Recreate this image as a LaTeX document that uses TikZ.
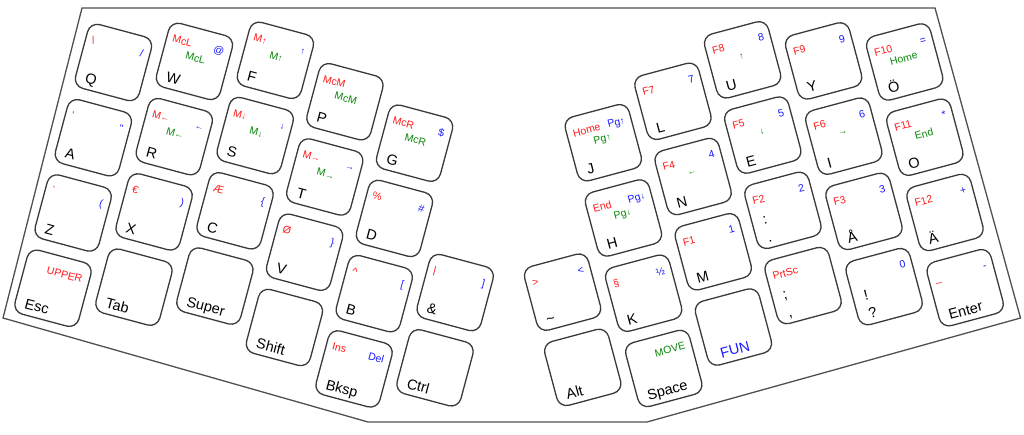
\documentclass[tikz,border=0pt]{standalone}
\usepackage{fontspec}
\setmainfont{Liberation Sans}
\definecolor{kred}{HTML}{FF1A1A}
\definecolor{kblue}{HTML}{1A1AFF}
\definecolor{kgreen}{HTML}{0A870A}
\definecolor{keyline}{HTML}{3A3A3A}
\definecolor{caseline}{HTML}{505050}
\newcommand\myarr[1]{{\fontsize{9}{9}\selectfont #1}}
\tikzset{
  keybox/.style={draw=keyline, line width=1.3pt, rounded corners=10pt,
    minimum width=66pt, minimum height=66pt, inner sep=0pt},
  mainlbl/.style={anchor=base west, inner sep=0pt, text=black,
    font=\fontsize{14.5}{17}\selectfont},
  redlbl/.style={anchor=base west, inner sep=0pt, text=kred,
    font=\fontsize{10.5}{12}\selectfont},
  bluelbl/.style={anchor=base east, inner sep=0pt, text=kblue,
    font=\fontsize{10.5}{12}\selectfont},
  greenlbl/.style={anchor=center, inner sep=0pt, text=kgreen,
    font=\fontsize{10.5}{12}\selectfont},
  caseoutline/.style={draw=caseline, line width=1.3pt, line join=miter},
}
% name, u, v, main, red, green, blue
\newcommand\KEY[7]{%
  \node[keybox] (#1) at ({#2},{-1*(#3)}) {};
  \if\relax\detokenize{#4}\relax\else\node[mainlbl] (#1-m) at ({#2-23},{-1*(#3)-27}) {#4};\fi
  \if\relax\detokenize{#5}\relax\else\node[redlbl] (#1-r) at ({#2-27},{-1*(#3)+13}) {#5};\fi
  \if\relax\detokenize{#6}\relax\else\node[greenlbl] (#1-g) at ({#2},{-1*(#3)+3.5}) {#6};\fi
  \if\relax\detokenize{#7}\relax\else\node[bluelbl] (#1-b) at ({#2+26.5},{-1*(#3)+13}) {#7};\fi
}
\begin{document}
\begin{tikzpicture}[x=1pt,y=1pt]
\useasboundingbox (0,0) rectangle (1024,-434);
\fill[white] (0,0) rectangle (1024,-434);
% case outline
\coordinate (c1) at (82,-8);
\coordinate (c2) at (935,-8);
\coordinate (c3) at (1020.5,-318);
\coordinate (c4) at (647,-422);
\coordinate (c5) at (368,-422);
\coordinate (c6) at (3,-318);
\draw[caseoutline] (c1) -- (c2) -- (c3) -- (c4) -- (c5) -- (c6) -- cycle;

% ---------------- left half ----------------
\begin{scope}[rotate=-15, transform shape]
\KEY{q}{125.8}{31.0}{Q}{\textbackslash}{}{/}
\KEY{a}{125.8}{108.9}{A}{\textquotesingle}{}{\textquotedbl}
\KEY{z}{125.8}{186.8}{Z}{\textasciigrave}{}{(}
\KEY{esc}{125.8}{264.7}{Esc}{}{}{}
\node[bluelbl, text=kred] (esc-u) at (151.8,-252.2) {UPPER};
\KEY{w}{203.7}{9.0}{W}{McL}{McL}{@}
\KEY{r}{203.7}{86.9}{R}{M\myarr{←}}{M\myarr{←}}{\myarr{←}}
\KEY{x}{203.7}{164.8}{X}{€}{}{)}
\KEY{tab}{203.7}{242.7}{Tab}{}{}{}
\KEY{f}{281.6}{-13.0}{F}{M\myarr{↑}}{M\myarr{↑}}{\myarr{↑}}
\KEY{s}{281.6}{64.9}{S}{M\myarr{↓}}{M\myarr{↓}}{\myarr{↓}}
\KEY{c}{281.6}{142.8}{C}{Æ}{}{\{}
\KEY{super}{281.6}{220.7}{Super}{}{}{}
\KEY{p}{359.5}{9.0}{P}{McM}{McM}{}
\KEY{t}{359.5}{86.9}{T}{M\myarr{→}}{M\myarr{→}}{\myarr{→}}
\KEY{v}{359.5}{164.8}{V}{Ø}{}{\}}
\KEY{shift}{359.5}{242.7}{Shift}{}{}{}
\KEY{g}{437.5}{31.0}{G}{McR}{McR}{\$}
\KEY{d}{437.5}{108.9}{D}{\%}{}{\#}
\KEY{b}{437.5}{186.8}{B}{\textasciicircum}{}{[}
\KEY{bksp}{437.5}{264.7}{Bksp}{Ins}{}{Del}
\KEY{amp}{515.4}{164.8}{\&}{|}{}{]}
\KEY{ctrl}{515.4}{242.7}{Ctrl}{}{}{}
\end{scope}

% ---------------- right half ----------------
\begin{scope}[rotate=15, transform shape]
\KEY{tilde}{467.8}{427.8}{\textasciitilde}{>}{}{<}
\KEY{alt}{467.8}{505.7}{Alt}{}{}{}
\KEY{j}{545.8}{294.0}{J}{Home}{Pg\myarr{↑}}{Pg\myarr{↑}}
\KEY{h}{545.8}{371.9}{H}{End}{Pg\myarr{↓}}{Pg\myarr{↓}}
\KEY{k}{545.8}{449.8}{K}{§}{}{½}
\KEY{space}{545.8}{527.7}{Space}{}{}{}
\node[bluelbl, text=kgreen] (space-mv) at (572.3,-514.7) {MOVE};
\KEY{l}{623.8}{272.0}{L}{F7}{}{7}
\KEY{n}{623.8}{349.9}{N}{F4}{\myarr{←}}{4}
\KEY{m}{623.8}{427.8}{M}{F1}{}{1}
\KEY{fun}{623.8}{505.7}{}{}{}{}
\node[mainlbl, anchor=base, text=kblue] (fun-m) at (619.5,-532.7) {FUN};
\KEY{u}{701.8}{250.0}{U}{F8}{\myarr{↑}}{8}
\KEY{e}{701.8}{327.9}{E}{F5}{\myarr{↓}}{5}
\KEY{colon}{701.8}{405.8}{}{F2}{}{2}
\node[mainlbl] (colon-u) at (679.8,-414.3) {:};
\node[mainlbl] (colon-l) at (679.8,-432.8) {.};
\KEY{prtsc}{701.8}{483.7}{}{PrtSc}{}{}
\node[mainlbl] (prtsc-u) at (679.8,-492.2) {;};
\node[mainlbl] (prtsc-l) at (679.8,-510.7) {,};
\KEY{y}{779.8}{272.0}{Y}{F9}{}{9}
\KEY{i}{779.8}{349.9}{I}{F6}{\myarr{→}}{6}
\KEY{aring}{779.8}{427.8}{Å}{F3}{}{3}
\KEY{excl}{779.8}{505.7}{}{}{}{0}
\node[mainlbl] (excl-u) at (757.8,-514.2) {!};
\node[mainlbl] (excl-l) at (757.8,-532.7) {?};
\KEY{oe}{857.8}{294.0}{Ö}{F10}{Home}{=}
\KEY{o}{857.8}{371.9}{O}{F11}{End}{*}
\KEY{ae}{857.8}{449.8}{Ä}{F12}{}{+}
\KEY{enter}{857.8}{527.7}{Enter}{\_}{}{-}
\end{scope}
\end{tikzpicture}
\end{document}
